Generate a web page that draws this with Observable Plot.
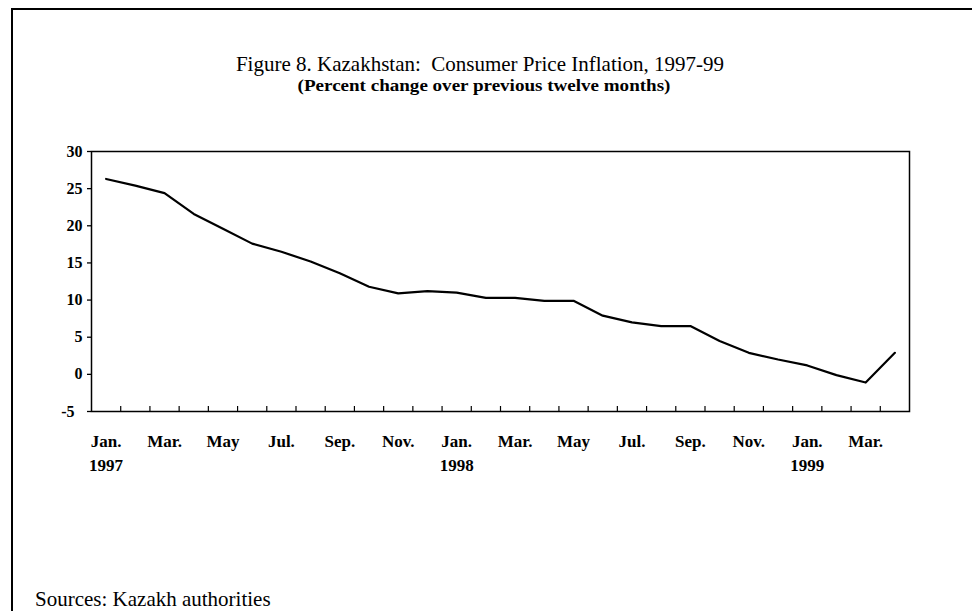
<!DOCTYPE html>
<html>
<head>
<meta charset="utf-8">
<script src="https://cdn.jsdelivr.net/npm/d3@7"></script>
<script src="https://cdn.jsdelivr.net/npm/@observablehq/plot@0.6"></script>
<style>
  html, body { margin: 0; padding: 0; background: #fff; }
  #page { position: relative; width: 972px; height: 611px; overflow: hidden; background: #fff; font-family: "Liberation Serif", "Times New Roman", serif; color: #000; }
  #border { position: absolute; left: 11px; top: 8px; width: 1000px; height: 700px; border-top: 2px solid #000; border-left: 2px solid #000; }
  .t { position: absolute; white-space: nowrap; transform-origin: center center; }
  #title { left: 0; width: 960px; top: 52px; text-align: center; font-size: 21px; }
  #subtitle { left: 0; width: 968px; top: 77px; text-align: center; font-size: 16px; font-weight: bold; transform: scaleX(1.19); }
  #source { left: 35px; top: 587px; font-size: 21px; }
  #chart { position: absolute; left: 0; top: 140px; }
</style>
</head>
<body>
<div id="page">
  <div id="border"></div>
  <div class="t" id="title">Figure 8. Kazakhstan:&nbsp; Consumer Price Inflation, 1997-99</div>
  <div class="t" id="subtitle">(Percent change over previous twelve months)</div>
  <div id="chart"></div>
  <div class="t" id="source">Sources: Kazakh authorities</div>
</div>
<script>
// Monthly periods, Jan. 1997 - Apr. 1999
const months = ["Jan.","Feb.","Mar.","Apr.","May","Jun.","Jul.","Aug.","Sep.","Oct.","Nov.","Dec.",
                "Jan.","Feb.","Mar.","Apr.","May","Jun.","Jul.","Aug.","Sep.","Oct.","Nov.","Dec.",
                "Jan.","Feb.","Mar.","Apr."];
const years = ["1997","","","","","","","","","","","",
               "1998","","","","","","","","","","","",
               "1999","","",""];
// Consumer price inflation, percent change over previous twelve months
const inflation = [26.3, 25.4, 24.4, 21.6, 19.6, 17.6, 16.5, 15.2, 13.6, 11.8, 10.9, 11.2,
                   11.0, 10.3, 10.3, 9.9, 9.9, 7.9, 7.0, 6.5, 6.5, 4.5, 2.9, 2.0,
                   1.2, -0.1, -1.1, 2.9];
const yTicks = [-5, 0, 5, 10, 15, 20, 25, 30];

const data = inflation.map((v, i) => ({i, v, month: months[i], year: years[i]}));
const labelled = data.filter(d => d.i % 2 === 0);
const boundaries = d3.range(1, months.length).map(k => k - 0.5);

const chart = Plot.plot({
  width: 972,
  height: 350,
  marginLeft: 91,
  marginRight: 63,
  marginTop: 11,
  marginBottom: 79,
  style: {fontFamily: "'Liberation Serif', serif", fontSize: "16px", fontWeight: "bold", color: "#000", background: "transparent"},
  x: {domain: [-0.5, months.length - 0.5], axis: null},
  y: {domain: [-5, 30], axis: null},
  marks: [
    Plot.frame({stroke: "#000", strokeWidth: 1.5}),
    Plot.axisY({ticks: yTicks, label: null, tickSize: 4, tickPadding: 5, stroke: "#000", strokeWidth: 1.3,
      tickFormat: d => d < 0 ? `${d}\u2007` : `${d}`, fontSize: 16}),
    Plot.tickX(boundaries, {x: d => d, stroke: "#000", strokeWidth: 1.2, insetTop: 255}),
    Plot.line(data, {x: "i", y: "v", stroke: "#000", strokeWidth: 2.2, strokeLinejoin: "round"}),
    Plot.text(labelled, {x: "i", text: "month", frameAnchor: "bottom", dy: 35, fontSize: 17}),
    Plot.text(labelled.filter(d => d.year), {x: "i", text: "year", frameAnchor: "bottom", dy: 59, fontSize: 17})
  ]
});
document.getElementById("chart").appendChild(chart);
</script>
</body>
</html>
